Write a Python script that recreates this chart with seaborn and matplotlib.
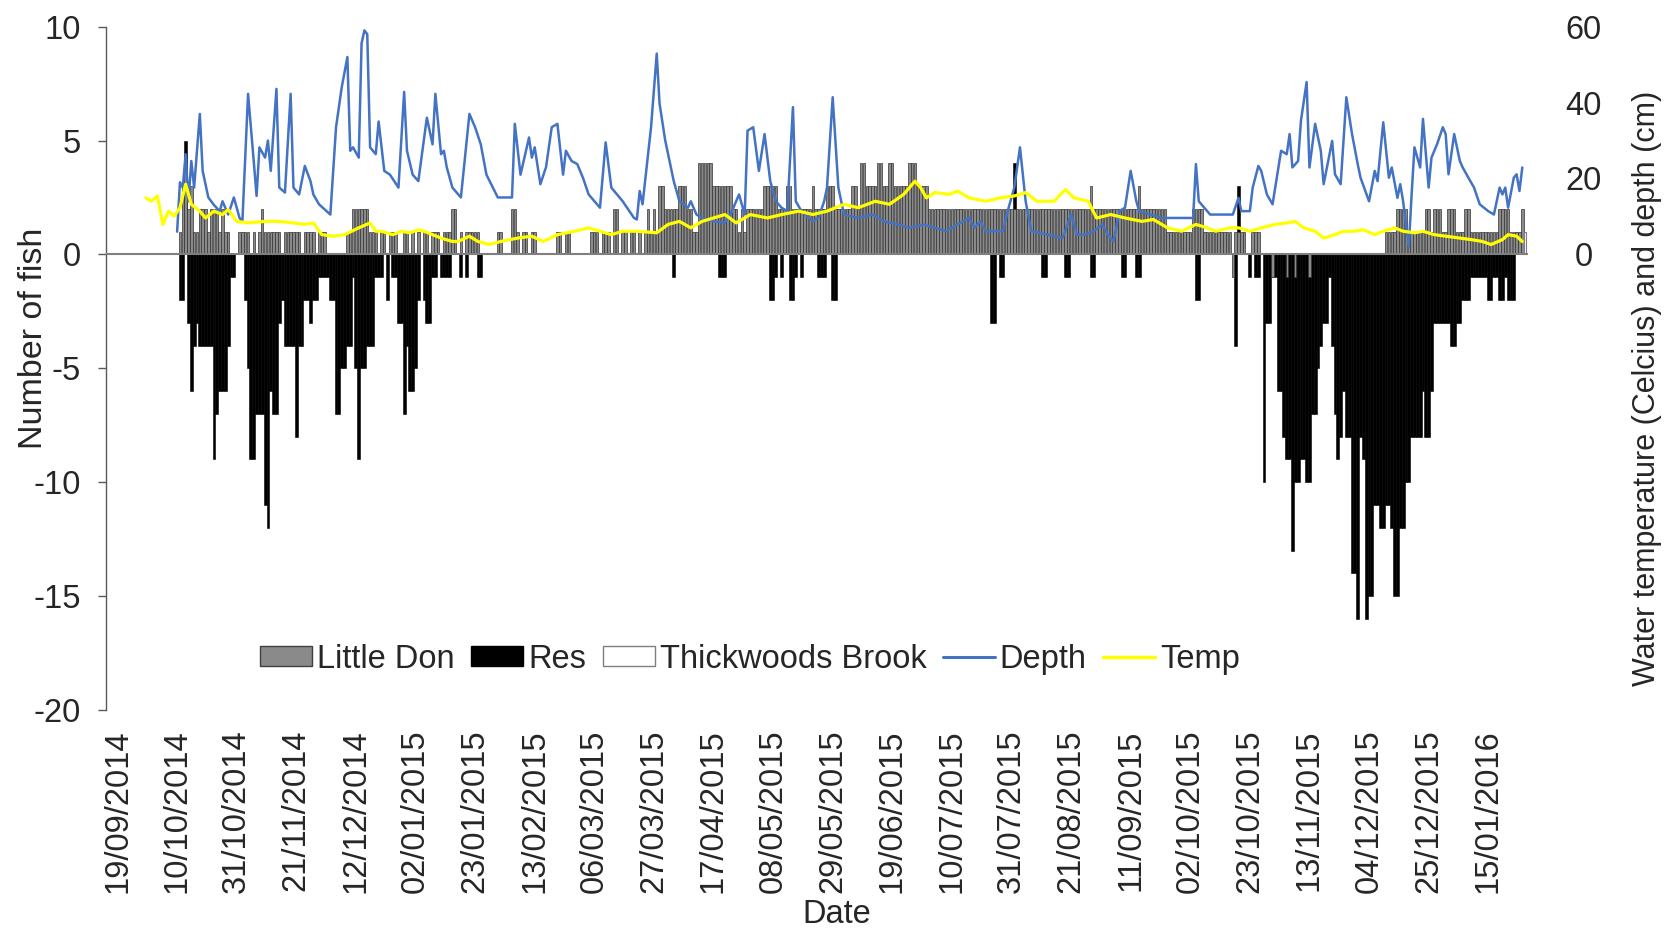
import numpy as np
import pandas as pd
import matplotlib
matplotlib.use("Agg")
import matplotlib.pyplot as plt
import matplotlib.transforms as mtransforms
import seaborn as sns
from matplotlib.patches import Patch
from matplotlib.lines import Line2D

sns.set_theme(style="white")
plt.rcParams['font.family'] = ['Liberation Sans', 'DejaVu Sans']
plt.rcParams['axes.unicode_minus'] = False

# ---------------- data (day offsets counted from 19/09/2014) ----------------
FIRST_BAR_DAY = 25

res_fish = [
    -2, -2, 5, -3, -6, -4, -3, -4, -4, -4,
    -4, -4, -9, -7, -6, -6, -6, -4, -1, -1,
    0, 0, 0, -2, -5, -9, -9, -7, -7, -7,
    -11, -12, -6, -7, -7, -3, -2, -4, -4, -4,
    -4, -8, -4, -4, -2, -2, -3, -2, -2, -1,
    -1, -1, -1, -2, -2, -7, -7, -5, -5, -4,
    -4, -1, -5, -9, -5, -5, -4, -4, -4, -1,
    -1, -1, 0, -2, 0, -1, -1, -3, -3, -7,
    -4, -6, -6, -5, -2, 0, -2, -3, -3, -1,
    -1, 0, -1, -1, -1, -1, 0, 0, 0, -1,
    0, -1, 0, 0, 0, -1, -1, 0, 0, 0,
    0, 0, 0, 0, 0, 0, 0, 0, 0, 0,
    0, 0, 0, 0, 0, 0, 0, 0, 0, 0,
    0, 0, 0, 0, 0, 0, 0, 0, 0, 0,
    0, 0, 0, 0, 0, 0, 0, 0, 0, 0,
    0, 0, 0, 0, 0, 0, 0, 0, 0, 0,
    0, 0, 0, 0, 0, 0, 0, 0, 0, 0,
    0, 0, 0, 0, -1, 0, 0, 0, 0, 0,
    0, 0, 0, 0, 0, 0, 0, 0, 0, 0,
    -1, -1, -1, 0, 0, 0, 0, 0, 0, 0,
    0, 0, 0, 0, 0, 0, 0, 0, -2, -2,
    -1, 0, -1, 0, 0, -2, -2, -1, 0, -1,
    0, 0, 0, 0, 0, -1, -1, -1, 0, 0,
    -2, -2, 0, 0, 0, 0, 0, 0, 0, 0,
    0, 0, 0, 0, 0, 0, 0, 0, 0, 0,
    0, 0, 0, 0, 0, 0, 0, 0, 0, 0,
    0, 0, 0, 0, 0, 0, 0, 0, 0, 0,
    0, 0, 0, 0, 0, 0, 0, 0, 0, 0,
    0, 0, 0, 0, 0, 0, -3, -3, 0, -1,
    -1, 0, 0, 0, 4, 0, 0, 0, 0, 0,
    0, 0, 0, 0, -1, -1, 0, 0, 0, 0,
    0, 0, -1, -1, 0, 0, 0, 0, 0, 0,
    0, -1, -1, 0, 0, 0, 0, 0, 0, 0,
    0, 0, -1, -1, 0, 0, 0, -1, -1, 0,
    0, 0, 0, 0, 0, 0, 0, 0, 0, 0,
    0, 0, 0, 0, 0, 0, 0, 0, -2, -2,
    0, 0, 0, 0, 0, 0, 0, 0, 0, 0,
    0, 0, -4, 3, 0, 0, 0, -1, 0, -1,
    -1, 0, -10, -3, -3, -1, -1, -6, -6, -8,
    -9, -9, -13, -10, -10, -9, -9, -10, -10, -7,
    -7, -5, -4, -3, -3, -1, -4, -7, -9, -8,
    -6, -8, -8, -14, -14, -16, -8, -9, -16, -15,
    -15, -11, -11, -12, -12, -11, -11, -12, -15, -15,
    -12, -12, -10, -10, -8, -8, -8, -8, -6, -8,
    -8, -6, -3, -3, -3, -3, -3, -3, -4, -4,
    -3, -3, -2, -2, -2, -1, -1, -1, -1, -1,
    -1, -2, -2, -1, -1, -2, -2, -1, -2, -2,
    -2, 0, 0, 0, 0,
]

little_don_fish = [
    1, 3, 4, 2, 3, 1, 1, 2, 2, 2,
    1, 2, 2, 2, 1, 2, 1, 1, 0, 0,
    0, 1, 1, 1, 1, 0, 1, 0, 1, 2,
    1, 1, 1, 1, 1, 1, 0, 1, 1, 1,
    1, 1, 1, 0, 1, 1, 1, 1, 0, 1,
    1, 1, 0, 0, 0, 0, 0, 0, 0, 1,
    1, 2, 2, 2, 2, 2, 2, 1, 1, 1,
    0, 1, 1, 0, 1, 1, 1, 0, 0, 1,
    1, 0, 1, 0, 1, 0, 1, 1, 0, 1,
    1, 1, 0, 1, 1, 1, 2, 2, 0, 1,
    0, 1, 1, 1, 1, 1, 0, 0, 0, 0,
    0, 0, 1, 1, 0, 0, 0, 2, 2, 1,
    0, 1, 1, 0, 1, 1, 0, 0, 0, 0,
    0, 0, 0, 1, 1, 0, 1, 1, 0, 0,
    0, 0, 0, 0, 0, 1, 1, 1, 0, 1,
    1, 1, 0, 2, 2, 0, 1, 1, 0, 1,
    1, 0, 1, 0, 1, 2, 1, 2, 1, 3,
    3, 2, 2, 2, 2, 2, 3, 3, 3, 2,
    2, 1, 1, 4, 4, 4, 4, 4, 3, 3,
    3, 3, 3, 3, 3, 2, 2, 1, 2, 1,
    2, 2, 2, 2, 2, 2, 3, 3, 3, 3,
    3, 2, 2, 2, 3, 3, 2, 2, 2, 2,
    2, 2, 2, 3, 2, 2, 2, 2, 3, 3,
    3, 2, 2, 2, 2, 2, 2, 3, 3, 2,
    4, 4, 3, 3, 3, 3, 4, 4, 3, 3,
    4, 4, 3, 3, 3, 3, 3, 4, 4, 4,
    3, 3, 3, 3, 2, 2, 2, 2, 2, 2,
    2, 2, 2, 2, 2, 2, 2, 2, 2, 2,
    2, 2, 2, 2, 2, 2, 2, 2, 2, 2,
    2, 2, 2, 2, 2, 2, 2, 2, 2, 2,
    2, 2, 2, 2, 2, 2, 2, 2, 2, 2,
    2, 2, 2, 2, 2, 2, 2, 2, 2, 2,
    2, 3, 2, 2, 2, 2, 2, 2, 2, 2,
    2, 2, 2, 2, 2, 2, 2, 2, 3, 2,
    2, 2, 2, 2, 2, 2, 2, 2, 1, 1,
    1, 1, 1, 1, 1, 1, 1, 2, 2, 2,
    2, 1, 1, 1, 1, 1, 1, 1, 1, 1,
    1, -1, 1, 1, 1, 1, 0, 0, 1, 1,
    1, 0, 0, 0, 0, -1, 0, 0, 0, 0,
    -1, 0, 0, -1, 0, 0, 0, 0, -1, 0,
    0, 0, 0, 0, 0, 0, 0, 0, 0, 0,
    0, 0, 0, 0, 0, 0, 0, 0, 0, 0,
    0, 0, 0, 0, 0, 1, 1, 1, 1, 2,
    2, 2, 2, 1, 1, 1, 1, 1, 1, 2,
    2, 1, 2, 2, 2, 1, 1, 2, 2, 2,
    1, 1, 1, 2, 2, 1, 1, 1, 1, 1,
    1, 1, 1, 1, 1, 2, 2, 2, 2, 1,
    1, 1, 1, 2, 1,
]

thickwoods_day = [499]
thickwoods_fish = [1]

depth_day = [
    24, 25, 26, 27, 28, 29, 30, 32, 33, 35,
    37, 39, 40, 42, 44, 46, 47, 49, 51, 52,
    53, 55, 56, 57, 59, 60, 62, 64, 65, 67,
    69, 71, 72, 74, 78, 80, 82, 84, 85, 86,
    88, 89, 90, 91, 92, 94, 95, 97, 99, 102,
    104, 105, 107, 109, 112, 114, 115, 117, 118, 119,
    121, 124, 127, 129, 131, 133, 137, 142, 143, 145,
    148, 149, 150, 152, 154, 156, 158, 160, 161, 163,
    165, 167, 169, 173, 175, 177, 181, 185, 186, 187,
    188, 191, 193, 194, 196, 199, 201, 204, 205, 207,
    209, 213, 217, 219, 222, 224, 225, 227, 229, 231,
    233, 235, 237, 239, 241, 242, 244, 248, 250, 252,
    253, 255, 257, 259, 264, 269, 273, 278, 282, 287,
    291, 295, 299, 303, 305, 307, 309, 315, 317, 319,
    321, 323, 325, 331, 336, 339, 341, 344, 347, 350,
    352, 354, 356, 358, 360, 362, 363, 371, 382, 383,
    384, 387, 388, 396, 398, 399, 402, 403, 405, 406,
    408, 410, 413, 415, 416, 417, 419, 420, 422, 423,
    425, 427, 428, 431, 432, 434, 436, 438, 440, 441,
    444, 446, 447, 449, 451, 452, 454, 455, 456, 458,
    459, 460, 462, 463, 465, 466, 468, 470, 471, 472,
    474, 476, 477, 479, 481, 483, 486, 488, 490, 491,
    492, 493, 495, 496, 497, 498,
]
depth_cm = [
    6, 19, 17.6, 26.4, 14, 24.6, 17.6, 37, 22, 15,
    13, 11.4, 14, 10.5, 15, 9.6, 8.7, 42.3, 24.6, 15.4,
    28.2, 25.5, 30, 22, 43.6, 17.6, 16.3, 42.3, 17.6, 15.8,
    23.3, 19.3, 15.8, 13.2, 10.5, 33.5, 44, 52, 27.3, 28.2,
    25.5, 55.6, 59, 58, 28.2, 26.4, 35, 22, 21, 17.6,
    42.8, 27.3, 21, 19.3, 36, 29, 42.3, 26.4, 27.3, 23,
    17.6, 15, 37, 33.5, 29, 21, 15, 15, 34.4, 21,
    30.8, 25.5, 28.2, 18.5, 23, 33.5, 34.4, 21, 27.3, 24.6,
    23.8, 20.2, 15.8, 12.3, 29.5, 17.6, 14, 9.6, 9.2, 16.7,
    13.2, 33.5, 52.9, 39.7, 30, 19.3, 14, 12.3, 14, 10.5,
    9.6, 8.7, 8.3, 10.5, 15.8, 10.5, 32.6, 33.5, 22, 31.7,
    19.3, 14, 12.3, 11.4, 38.8, 14, 11.4, 8.7, 9.6, 14,
    17.6, 41.4, 17.6, 10.5, 9.6, 10.5, 8.7, 7.9, 7, 7.9,
    7, 6.1, 7.9, 9.6, 7, 8.7, 6.1, 6.1, 12.3, 17.6,
    28.2, 14, 6.1, 5.2, 4.3, 10.5, 5.2, 5.2, 6.1, 7.9,
    5.2, 3.4, 11.4, 12.3, 22, 14, 11.4, 9.6, 9.6, 23.8,
    14, 11.4, 10.5, 10.5, 14.9, 11.4, 11.4, 17.6, 23.3, 22,
    15.8, 13.2, 27.3, 26.4, 31.7, 22.9, 24.6, 35.2, 45.4, 22.9,
    34.4, 27.3, 18.5, 29.9, 21.1, 18.5, 41.4, 31.7, 23.8, 20.2,
    14, 22, 19.3, 34.8, 20.2, 22.9, 14.9, 18.5, 14, 2.1,
    15.8, 28.2, 22.9, 35.7, 17.6, 25.5, 29.1, 33.5, 31.7, 21.1,
    31.7, 24.6, 22.9, 20.2, 17.6, 13.2, 11.4, 10.5, 17.6, 15.8,
    17.6, 12.3, 20.2, 21.1, 16.7, 22.9,
]

temp_day = [
    13, 15, 17, 19, 21, 23, 25, 27, 29, 32,
    34, 37, 40, 42, 45, 49, 55, 60, 65, 69,
    72, 75, 79, 83, 88, 92, 94, 96, 100, 103,
    106, 109, 111, 114, 117, 121, 123, 127, 130, 134,
    138, 144, 149, 153, 158, 164, 169, 173, 177, 181,
    186, 193, 197, 201, 205, 209, 213, 217, 221, 226,
    232, 237, 243, 248, 253, 259, 264, 270, 275, 280,
    284, 286, 288, 291, 296, 299, 303, 309, 314, 319,
    323, 327, 333, 337, 340, 345, 348, 353, 358, 364,
    368, 373, 378, 383, 387, 390, 395, 398, 402, 406,
    411, 415, 418, 421, 425, 428, 432, 435, 439, 442,
    446, 449, 453, 456, 460, 463, 467, 471, 476, 480,
    484, 487, 491, 493, 496, 498,
]
temp_c = [
    14.9, 14, 15.4, 7.9, 11.4, 10.1, 12.3, 18.5, 13.2, 11.4,
    9.6, 11.4, 10.5, 11.8, 8.7, 8.3, 8.7, 8.7, 8.3, 7.9,
    8.3, 5.2, 4.8, 5.2, 7, 8.3, 6.1, 6.1, 5.2, 6.1,
    5.7, 6.5, 6.1, 5.2, 4.3, 3.4, 3.4, 4.8, 3.4, 2.6,
    3.4, 4.3, 4.8, 3.4, 5.2, 6.1, 7, 6.1, 5.2, 6.1,
    6.1, 5.7, 7.9, 8.7, 7, 8.7, 9.6, 10.5, 8.3, 10.5,
    9.6, 10.5, 11.4, 10.5, 11.4, 13.2, 12.3, 14, 13.2, 15.8,
    19.3, 17.6, 14.9, 16.3, 15.8, 16.7, 14.9, 14, 14.9, 15.4,
    16.3, 14, 14, 17.1, 14.9, 14, 9.6, 10.5, 9.6, 8.7,
    9.2, 7, 6.1, 7.9, 7, 6.1, 7, 7, 6.1, 7,
    7.9, 8.3, 8.7, 7, 6.1, 4.3, 5.2, 6.1, 6.1, 6.5,
    5.2, 6.1, 7, 6.1, 5.7, 6.1, 5.2, 4.8, 4.3, 3.9,
    3.4, 2.6, 3.9, 5.2, 4.8, 3.4,
]

tick_day = [0, 21, 42, 63, 84, 105, 126, 147, 168, 189, 210, 231,
            252, 273, 294, 315, 336, 357, 378, 399, 420, 441, 462, 483]
tick_labels = ["19/09/2014", "10/10/2014", "31/10/2014", "21/11/2014",
               "12/12/2014", "02/01/2015", "23/01/2015", "13/02/2015",
               "06/03/2015", "27/03/2015", "17/04/2015", "08/05/2015",
               "29/05/2015", "19/06/2015", "10/07/2015", "31/07/2015",
               "21/08/2015", "11/09/2015", "02/10/2015", "23/10/2015",
               "13/11/2015", "04/12/2015", "25/12/2015", "15/01/2016"]

# ---------------- figure ----------------
GREY_BAR = '#8a8a8a'
BLUE = '#4472C4'
YELLOW = '#FFFF00'
FS = 23.5

fig = plt.figure(figsize=(16.67, 9.31), dpi=100)
ax = fig.add_axes([0.0636, 0.2374, 0.8530, 0.7340])

res_df = pd.DataFrame({'day': np.arange(FIRST_BAR_DAY, FIRST_BAR_DAY + len(res_fish)),
                       'fish': res_fish})
ld_df = pd.DataFrame({'day': np.arange(FIRST_BAR_DAY, FIRST_BAR_DAY + len(little_don_fish)),
                      'fish': little_don_fish})
tw_df = pd.DataFrame({'day': thickwoods_day, 'fish': thickwoods_fish})

sns.barplot(data=res_df, x='day', y='fish', native_scale=True, color='black',
            saturation=1, width=1.0, edgecolor='black', linewidth=0.4,
            errorbar=None, ax=ax)
sns.barplot(data=ld_df, x='day', y='fish', native_scale=True, color=GREY_BAR,
            saturation=1, width=0.85, edgecolor='#333333', linewidth=0.5,
            errorbar=None, ax=ax)
sns.barplot(data=tw_df, x='day', y='fish', native_scale=True, color='white',
            saturation=1, width=0.85, edgecolor='#7f7f7f', linewidth=0.8,
            errorbar=None, ax=ax)

ax.axhline(0, color='#7f7f7f', lw=1.5, zorder=5)

ax.set_xlim(-1.05, 500.0)
ax.set_ylim(-20, 10)
ax.set_yticks([-20, -15, -10, -5, 0, 5, 10])
ax.set_xticks(tick_day)
ax.set_xticklabels(tick_labels, rotation=90, fontsize=FS)
ax.tick_params(axis='x', length=0, pad=14)
ax.tick_params(axis='y', left=True, length=6, width=1.0, color='#595959',
               direction='out', pad=12, labelsize=FS)
shift = mtransforms.ScaledTranslation(0.085, 0, fig.dpi_scale_trans)
for lab in ax.get_xticklabels():
    lab.set_transform(lab.get_transform() + shift)
for s in ['top', 'right', 'bottom']:
    ax.spines[s].set_visible(False)
ax.spines['left'].set_color('#595959')
ax.spines['left'].set_linewidth(1.0)
ax.grid(False)

ax.set_xlabel('Date', fontsize=FS)
ax.xaxis.set_label_coords(0.514, -0.276)
ax.set_ylabel('Number of fish', fontsize=24.5)
ax.yaxis.set_label_coords(-0.040, 0.544)

# secondary axis: depth and temperature
ax2 = ax.twinx()
sns.lineplot(x=depth_day, y=depth_cm, color=BLUE, lw=1.8, ax=ax2, legend=False)
sns.lineplot(x=temp_day, y=temp_c, color=YELLOW, lw=2.3, ax=ax2, legend=False)
ax2.set_ylim(-120, 60)
ax2.set_yticks([0, 20, 40, 60])
ax2.tick_params(axis='y', right=True, length=0, pad=40, labelsize=FS)
for lab in ax2.get_yticklabels():
    lab.set_horizontalalignment('center')
for s in ax2.spines.values():
    s.set_visible(False)
ax2.grid(False)
ax2.set_xlim(-1.05, 500.0)
ax2.set_ylabel('Water temperature (Celcius) and depth (cm)', fontsize=22)
ax2.yaxis.set_label_coords(1.073, 0.471)

handles = [
    Patch(facecolor=GREY_BAR, edgecolor='#404040', label='Little Don'),
    Patch(facecolor='black', edgecolor='black', label='Res'),
    Patch(facecolor='white', edgecolor='#7f7f7f', label='Thickwoods Brook'),
    Line2D([], [], color=BLUE, lw=2.2, label='Depth'),
    Line2D([], [], color=YELLOW, lw=2.5, label='Temp'),
]
ax2.legend(handles=handles, loc='center', bbox_to_anchor=(0.453, 0.0746),
           ncol=5, frameon=False, fontsize=FS, handlelength=1.6,
           handleheight=0.55, handletextpad=0.15, columnspacing=0.5)

fig.savefig('out.png', dpi=100)
